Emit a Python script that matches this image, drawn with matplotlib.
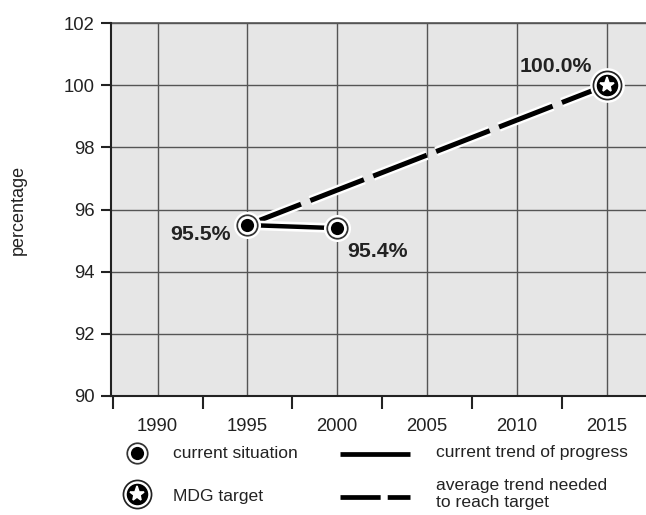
import matplotlib
matplotlib.use("Agg")
import matplotlib.pyplot as plt
import matplotlib.patheffects as pe

plt.rcParams['font.family'] = ['Liberation Sans', 'DejaVu Sans']

# data
years_actual = [1995, 2000]
values_actual = [95.5, 95.4]
years_target = [1995, 2015]
values_target = [95.5, 100.0]
target_year = 2015
target_value = 100.0
labels_actual = ['95.5%', '95.4%']
label_target = '100.0%'
x_grid = [1990, 1995, 2000, 2005, 2010, 2015]
x_minor = [1987.5, 1992.5, 1997.5, 2002.5, 2007.5, 2012.5]
y_ticks = [90, 92, 94, 96, 98, 100, 102]

W, H = 646, 515
fig = plt.figure(figsize=(W / 100, H / 100), dpi=100)
ax = fig.add_axes([111 / W, (H - 396) / H, (W - 111) / W, 373 / H])
ax.set_facecolor('#e6e6e6')
ax.set_xlim(1987.4, 2017.2)
ax.set_ylim(90, 102)

ax.set_xticks(x_grid)
ax.set_xticklabels([str(y) for y in x_grid])
ax.set_xticks(x_minor, minor=True)
ax.tick_params(axis='x', which='major', length=0, pad=16, labelsize=13.3, labelcolor='#222')
ax.tick_params(axis='x', which='minor', length=9.5, width=1.5, direction='out', color='#222')
ax.set_yticks(y_ticks)
ax.tick_params(axis='y', length=7, width=1.5, pad=5, labelsize=13.3, labelcolor='#222', color='#222')
ax.grid(True, which='major', color='#555555', linewidth=1.0)
ax.set_axisbelow(True)
for s in ['top', 'right']:
    ax.spines[s].set_visible(False)
for s in ['left', 'bottom']:
    ax.spines[s].set_linewidth(1.5)
    ax.spines[s].set_color('#222')
ax.axhline(102, color='#555555', linewidth=1.2, clip_on=False)
ax.set_ylabel('percentage', fontsize=13, color='#222', labelpad=26)

halo = [pe.withStroke(linewidth=7, foreground='white')]
ax.plot(years_target, values_target, color='black', linewidth=3.6,
        dashes=(11.5, 2.0), solid_capstyle='butt', path_effects=halo, zorder=3)
ax.plot(years_actual, values_actual, color='black', linewidth=3.2,
        path_effects=halo, zorder=4)


def circle_marker(a, x, y, z=5):
    a.plot(x, y, 'o', ms=19.5, color='white', mec='none', zorder=z, clip_on=False)
    a.plot(x, y, 'o', ms=16, color='#333333', mec='none', zorder=z + 0.1, clip_on=False)
    a.plot(x, y, 'o', ms=13.5, color='white', mec='none', zorder=z + 0.2, clip_on=False)
    a.plot(x, y, 'o', ms=9.5, color='black', mec='none', zorder=z + 0.3, clip_on=False)


def star_marker(a, x, y, z=5):
    a.plot(x, y, 'o', ms=25, color='white', mec='none', zorder=z, clip_on=False)
    a.plot(x, y, 'o', ms=21.5, color='#222222', mec='none', zorder=z + 0.1, clip_on=False)
    a.plot(x, y, 'o', ms=19, color='white', mec='none', zorder=z + 0.2, clip_on=False)
    a.plot(x, y, 'o', ms=15.5, color='black', mec='none', zorder=z + 0.3, clip_on=False)
    a.plot(x, y, '*', ms=11, color='white', mec='white', mew=1.2, zorder=z + 0.4, clip_on=False)


circle_marker(ax, years_actual, values_actual)
star_marker(ax, [target_year], [target_value])

ax.text(years_actual[0] - 0.95, values_actual[0] - 0.3, labels_actual[0], ha='right', va='center',
        fontsize=15.3, fontweight='bold', color='#222')
ax.text(years_actual[1] + 0.55, values_actual[1] - 0.75, labels_actual[1], ha='left', va='center',
        fontsize=15.3, fontweight='bold', color='#222')
ax.text(target_year - 0.8, target_value + 0.6, label_target, ha='right', va='center',
        fontsize=15.3, fontweight='bold', color='#222')

# legend drawn in pixel coordinates
lax = fig.add_axes([0, 0, 1, 1])
lax.set_xlim(0, W)
lax.set_ylim(H, 0)
lax.axis('off')
circle_marker(lax, [137], [453])
star_marker(lax, [137], [494])
lax.text(173, 453, 'current situation', va='center', fontsize=12.6, color='#222')
lax.text(173, 497, 'MDG target', va='center', fontsize=12.6, color='#222')
lax.plot([340, 410], [454, 454], color='black', linewidth=3.4, solid_capstyle='butt')
lax.plot([340, 410], [497, 497], color='black', linewidth=3.4, dashes=(8.5, 1.5))
lax.text(436, 453, 'current trend of progress', va='center', fontsize=12.6, color='#222')
lax.text(436, 494, 'average trend needed\nto reach target', va='center', fontsize=12.6,
         color='#222', linespacing=1.1)

fig.savefig('out.png', dpi=100)
